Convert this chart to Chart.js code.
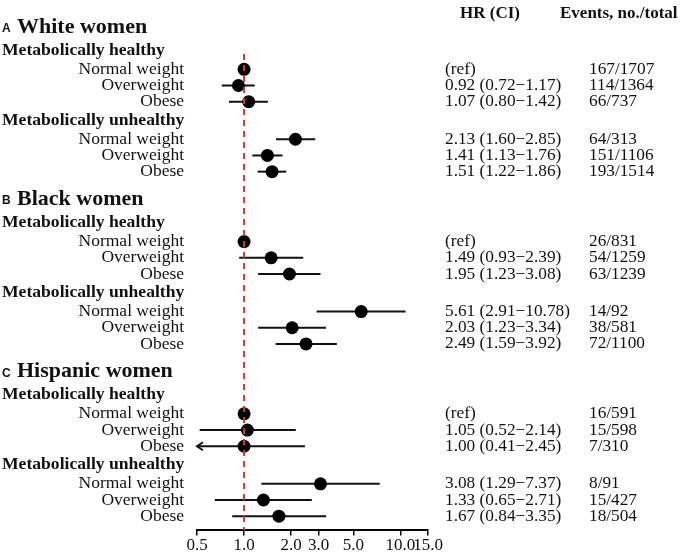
<!DOCTYPE html>
<html>
<head>
<meta charset="utf-8">
<script src="https://cdn.jsdelivr.net/npm/chart.js@4/dist/chart.umd.min.js"></script>
<style>
  body { margin: 0; background: #fff; }
  #forest { display: block; }
</style>
</head>
<body>
<canvas id="forest" width="683" height="555"></canvas>
<script>
// groups, subgroups and rows of the forest plot
const groupLetters = ['A', 'B', 'C']
const groupNames = ['White women', 'Black women', 'Hispanic women']
const statusNames = ['Metabolically healthy', 'Metabolically unhealthy']
const weightNames = ['Normal weight', 'Overweight', 'Obese']

// hazard ratios, one per row (group x status x weight), null CI = reference
const hazardRatios = [1.00, 0.92, 1.07, 2.13, 1.41, 1.51,
                      1.00, 1.49, 1.95, 5.61, 2.03, 2.49,
                      1.00, 1.05, 1.00, 3.08, 1.33, 1.67]
const ciLower = [null, 0.72, 0.80, 1.60, 1.13, 1.22,
                 null, 0.93, 1.23, 2.91, 1.23, 1.59,
                 null, 0.52, 0.41, 1.29, 0.65, 0.84]
const ciUpper = [null, 1.17, 1.42, 2.85, 1.76, 1.86,
                 null, 2.39, 3.08, 10.78, 3.34, 3.92,
                 null, 2.14, 2.45, 7.37, 2.71, 3.35]
const events = ['167/1707', '114/1364', '66/737', '64/313', '151/1106', '193/1514',
                '26/831', '54/1259', '63/1239', '14/92', '38/581', '72/1100',
                '16/591', '15/598', '7/310', '8/91', '15/427', '18/504']

const xTicks = [0.5, 1, 2, 3, 5, 10, 15]
const refValue = 1

// build row list, y position in "row units" from a simple spacing rule
const rows = []
let pos = 0
let prev = null
let k = 0
groupNames.forEach((name, g) => {
    pos += prev === null ? 0 : 1.7
    rows.push({ kind: 'title', text: name, letter: groupLetters[g], y: pos })
    prev = 'title'
    statusNames.forEach(status => {
        pos += prev === 'title' ? 1.45 : 1.15
        rows.push({ kind: 'header', text: status, y: pos })
        prev = 'header'
        weightNames.forEach(weight => {
            pos += prev === 'header' ? 1.17 : 1.0
            rows.push({ kind: 'item', text: weight, y: pos, idx: k })
            k++
            prev = 'item'
        })
    })
})
const itemRows = rows.filter(r => r.kind === 'item')

const SERIF = '"Liberation Serif", "Times New Roman", serif'
const SANS = '"Liberation Sans", Arial, sans-serif'

function hrText(i) {
    if (ciLower[i] === null) return '(ref)'
    return `${hazardRatios[i].toFixed(2)} (${ciLower[i].toFixed(2)}\u2212${ciUpper[i].toFixed(2)})`
}

const forestPlugin = {
    id: 'forest',
    beforeDatasetsDraw(chart) {
        const { ctx, scales: { x, y } } = chart
        ctx.save()
        ctx.strokeStyle = '#111'
        ctx.lineWidth = 2
        itemRows.forEach(r => {
            const i = r.idx
            if (ciLower[i] === null) return
            const clipped = ciLower[i] < x.min
            const x0 = x.getPixelForValue(clipped ? x.min : ciLower[i])
            const x1 = x.getPixelForValue(ciUpper[i])
            const py = y.getPixelForValue(r.y)
            ctx.beginPath()
            ctx.moveTo(x0, py)
            ctx.lineTo(x1, py)
            ctx.stroke()
            if (clipped) {
                ctx.beginPath()
                ctx.moveTo(x0 + 6, py - 4)
                ctx.lineTo(x0, py)
                ctx.lineTo(x0 + 6, py + 4)
                ctx.stroke()
            }
        })
        ctx.restore()
    },
    afterDatasetsDraw(chart) {
        const { ctx, chartArea, scales: { x } } = chart
        const px = x.getPixelForValue(refValue)
        ctx.save()
        ctx.strokeStyle = '#e2302b'
        ctx.lineWidth = 2
        ctx.setLineDash([6, 5])
        ctx.beginPath()
        ctx.moveTo(px, chartArea.top + 2)
        ctx.lineTo(px, chartArea.bottom)
        ctx.stroke()
        ctx.restore()
    },
    afterDraw(chart) {
        const { ctx, chartArea, scales: { y } } = chart
        ctx.save()
        ctx.fillStyle = '#111'
        ctx.textBaseline = 'middle'
        rows.forEach(r => {
            const py = y.getPixelForValue(r.y)
            if (r.kind === 'title') {
                ctx.textAlign = 'left'
                ctx.font = `bold 12px ${SANS}`
                ctx.fillText(r.letter, 2, py + 2)
                ctx.font = `bold 22px ${SERIF}`
                ctx.fillText(r.text, 17, py)
            } else if (r.kind === 'header') {
                ctx.textAlign = 'left'
                ctx.font = `bold 17.6px ${SERIF}`
                ctx.fillText(r.text, 2, py)
            } else {
                ctx.textAlign = 'right'
                ctx.font = `17.5px ${SERIF}`
                ctx.fillText(r.text, chartArea.left - 13, py)
                ctx.textAlign = 'left'
                ctx.font = `17.3px ${SERIF}`
                ctx.fillText(hrText(r.idx), 445, py)
                ctx.fillText(events[r.idx], 589, py)
            }
        })
        ctx.font = `bold 17px ${SERIF}`
        ctx.textAlign = 'left'
        ctx.fillText('HR (CI)', 460, 14)
        ctx.fillText('Events, no./total', 560, 14)
        ctx.restore()
    }
}

new Chart(document.getElementById('forest'), {
    type: 'scatter',
    data: {
        datasets: [{
            data: itemRows.map(r => ({ x: hazardRatios[r.idx], y: r.y })),
            backgroundColor: '#000',
            borderWidth: 0,
            pointRadius: 6.5
        }]
    },
    options: {
        responsive: false,
        animation: false,
        layout: { padding: { left: 197, right: 255, top: 52, bottom: 0 } },
        plugins: { legend: { display: false }, tooltip: { enabled: false } },
        scales: {
            x: {
                type: 'logarithmic',
                min: 0.5,
                max: 15,
                afterBuildTicks: scale => { scale.ticks = xTicks.map(v => ({ value: v })) },
                border: { display: true, color: '#000', width: 2 },
                grid: { drawOnChartArea: false, drawTicks: true, tickLength: 5, color: '#000', lineWidth: 1.5 },
                ticks: {
                    autoSkip: false,
                    maxRotation: 0,
                    padding: 0,
                    color: '#111',
                    font: { family: SERIF, size: 17, lineHeight: 1.15 },
                    callback: value => Number(value).toFixed(1)
                }
            },
            y: {
                type: 'linear',
                reverse: true,
                min: 1.55,
                max: 31.1,
                display: false
            }
        }
    },
    plugins: [forestPlugin]
})
</script>
</body>
</html>
